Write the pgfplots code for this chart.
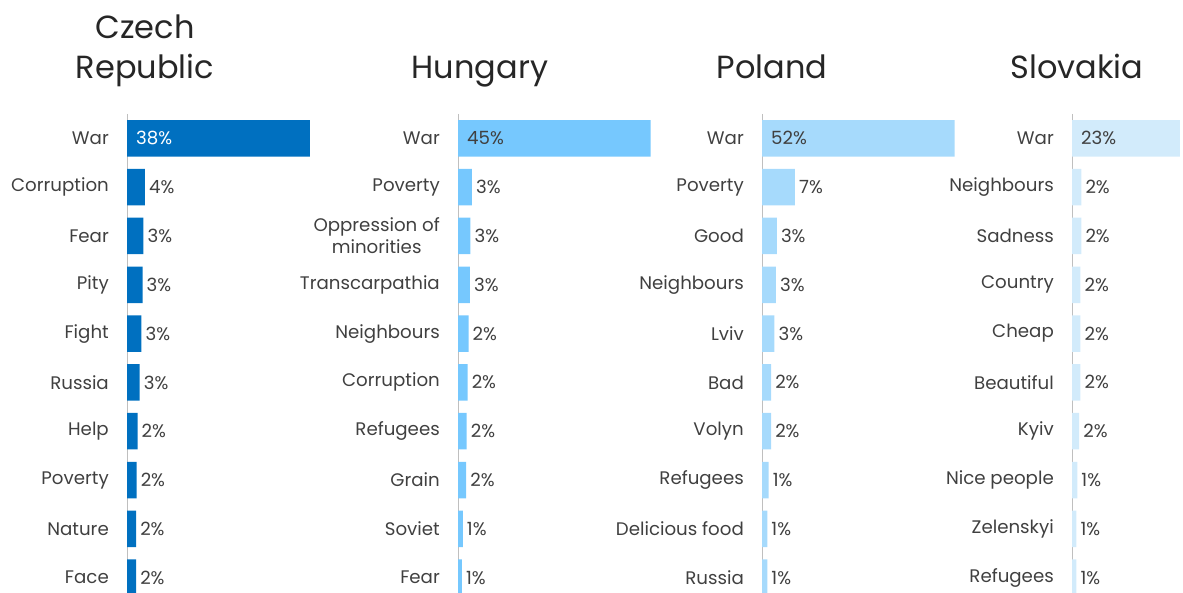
\documentclass[border=0pt]{standalone}
\usepackage{fontspec}
\setmainfont{Poppins}
\usepackage{pgfplots}
\usepackage{pgfplotstable}
\pgfplotsset{compat=1.18}
\definecolor{txt}{HTML}{404040}
\definecolor{cz}{HTML}{0070C0}
\definecolor{hu}{HTML}{76C8FE}
\definecolor{pl}{HTML}{A6DAFC}
\definecolor{sk}{HTML}{D2EBFB}

\pgfplotstableread{
row val lab
0 38.3 38
1 3.75 4
2 3.45 3
3 3.25 3
4 3.0 3
5 2.65 3
6 2.2 2
7 2.0 2
8 1.9 2
9 1.9 2
}\czech
\pgfplotstableread{
row val lab
0 45 45
1 2.9 3
2 2.6 3
3 2.5 3
4 2.2 2
5 2.0 2
6 1.8 2
7 1.7 2
8 1.0 1
9 0.8 1
}\hungary
\pgfplotstableread{
row val lab
0 52 52
1 6.9 7
2 3.1 3
3 2.9 3
4 2.6 3
5 1.9 2
6 1.9 2
7 1.4 1
8 1.1 1
9 1.1 1
}\poland
\pgfplotstableread{
row val lab
0 22.6 23
1 1.95 2
2 1.95 2
3 1.75 2
4 1.75 2
5 1.75 2
6 1.5 2
7 1.1 1
8 0.9 1
9 0.9 1
}\slovakia

\newcommand{\lblfont}{\fontsize{18.2}{22}\selectfont}
\pgfplotsset{panel/.style={
  scale only axis, width=192.5pt, height=488pt,
  xmin=0, xmax=40.3, ymin=-0.5, ymax=9.5, y dir=reverse,
  hide x axis, axis y line*=left,
  y axis line style={draw=gray!50, line width=0.8pt, -},
  ytick={0,...,9}, major tick length=0pt,
  yticklabel style={font=\lblfont, text=txt, align=center, inner sep=0pt, xshift=-18pt, anchor=east},
  bar width=36.5pt,
  anchor=north west,
  /pgf/number format/assume math mode=true,
}}

\newcommand{\panelplots}[3]{%
  \addplot[xbar, fill=#2, draw=none] table[x=val, y=row] {#1};
  \addplot[draw=none, mark=none, point meta=\thisrow{lab},
    nodes near coords={\pgfmathprintnumber[fixed,precision=0]{\pgfplotspointmeta}\%},
    skip coords between index={0}{1},
    nodes near coords style={anchor=west, inner sep=0pt, xshift=4pt, font=\lblfont, text=txt}]
    table[x=val, y=row] {#1};
  \addplot[draw=none, mark=none, point meta=\thisrow{lab},
    nodes near coords={\pgfmathprintnumber[fixed,precision=0]{\pgfplotspointmeta}\%},
    skip coords between index={1}{10},
    nodes near coords style={anchor=west, inner sep=0pt, xshift=9pt, font=\lblfont, text=#3}]
    table[x expr=0, y=row] {#1};
}

\begin{document}
\begin{tikzpicture}
\path[use as bounding box] (0,0) rectangle (1183pt,593pt);
\clip (0,0) rectangle (1183pt,593pt);

\begin{axis}[panel, at={(127pt,479pt)},
  yticklabels={War,Corruption,Fear,Pity,Fight,Russia,Help,Poverty,Nature,Face}]
\panelplots{\czech}{cz}{white}
\end{axis}

\begin{axis}[panel, at={(458pt,479pt)},
  yticklabels={War,Poverty,{Oppression of\\minorities},Transcarpathia,Neighbours,Corruption,Refugees,Grain,Soviet,Fear}]
\panelplots{\hungary}{hu}{txt}
\end{axis}

\begin{axis}[panel, at={(762pt,479pt)},
  yticklabels={War,Poverty,Good,Neighbours,Lviv,Bad,Volyn,Refugees,Delicious food,Russia}]
\panelplots{\poland}{pl}{txt}
\end{axis}

\begin{axis}[panel, at={(1072pt,479pt)},
  yticklabels={War,Neighbours,Sadness,Country,Cheap,Beautiful,Kyiv,Nice people,Zelenskyi,Refugees}]
\panelplots{\slovakia}{sk}{txt}
\end{axis}

\begin{scope}[every node/.style={font=\fontsize{32}{40}\selectfont, text=black!85, anchor=base, inner sep=0pt}]
\node at (145pt,554pt) {Czech};
\node at (145pt,514pt) {Republic};
\node at (480pt,514pt) {Hungary};
\node at (772pt,514pt) {Poland};
\node at (1077pt,514pt) {Slovakia};
\end{scope}
\end{tikzpicture}
\end{document}
